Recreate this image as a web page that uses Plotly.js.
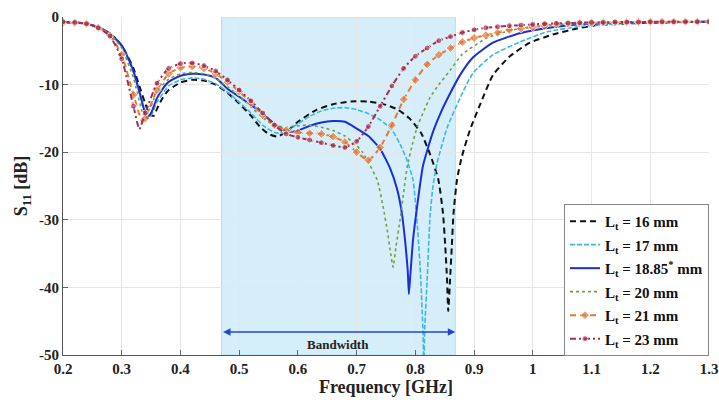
<!DOCTYPE html>
<html><head><meta charset="utf-8">
<script src="https://cdn.plot.ly/plotly-3.0.1.min.js"></script>
<style>html,body{margin:0;padding:0;background:#fff}#chart{width:719px;height:400px}</style>
</head><body><div id="chart"></div>
<script>
// ---- data ----
const f16 = [0.2,0.22,0.24,0.26,0.28,0.29,0.30,0.31,0.32,0.33,0.34,0.348,0.355,0.36,0.37,0.38,0.40,0.42,0.44,0.46,0.48,0.50,0.52,0.535,0.55,0.565,0.58,0.60,0.63,0.66,0.69,0.72,0.75,0.77,0.79,0.81,0.825,0.839,0.847,0.851,0.854,0.856,0.859,0.862,0.865,0.871,0.879,0.893,0.91,0.932,0.961,0.995,1.034,1.075,1.11,1.15,1.2,1.3];
const s16 = [-0.8,-0.8,-1.0,-1.5,-2.5,-3.2,-4.3,-5.8,-7.6,-10.2,-12.8,-14.5,-14.6,-13.6,-11.9,-10.8,-9.7,-9.3,-9.4,-10.0,-11.2,-12.8,-14.6,-16.2,-17.3,-17.7,-17.0,-15.5,-13.8,-12.9,-12.5,-12.5,-13.0,-13.7,-15.0,-17.2,-20.3,-24,-29,-34,-39,-43.5,-39,-34,-29,-24,-20.7,-16.7,-13.0,-8.6,-5.8,-3.8,-2.6,-1.7,-1.2,-1.0,-0.85,-0.7];

const f17 = [0.2,0.22,0.24,0.26,0.28,0.30,0.32,0.33,0.34,0.345,0.35,0.36,0.38,0.40,0.42,0.44,0.46,0.48,0.50,0.52,0.54,0.56,0.57,0.58,0.60,0.62,0.64,0.66,0.68,0.70,0.72,0.74,0.76,0.774,0.785,0.796,0.804,0.809,0.813,0.8145,0.816,0.82,0.825,0.83,0.837,0.854,0.876,0.898,0.932,0.978,1.024,1.08,1.15,1.2,1.3];
const s17 = [-0.8,-0.85,-1.0,-1.5,-2.5,-4.4,-8.2,-11.3,-14.5,-15.0,-14.6,-12.6,-10.2,-9.3,-9.0,-9.2,-9.9,-11.1,-12.6,-14.2,-16.0,-17.1,-17.2,-16.9,-15.8,-14.7,-13.9,-13.5,-13.4,-13.7,-14.3,-15.2,-16.7,-18.8,-21.0,-24.1,-31.5,-38.5,-46.5,-52,-46,-39,-29.5,-25,-21.6,-16.4,-12.0,-8.3,-5.6,-3.7,-2.2,-1.4,-1.0,-0.85,-0.7];

const f1885 = [0.2,0.22,0.24,0.26,0.28,0.30,0.31,0.32,0.33,0.34,0.343,0.35,0.36,0.37,0.38,0.40,0.42,0.44,0.46,0.48,0.50,0.52,0.54,0.56,0.58,0.59,0.60,0.62,0.64,0.66,0.68,0.70,0.72,0.74,0.757,0.769,0.777,0.783,0.787,0.789,0.792,0.796,0.803,0.813,0.83,0.845,0.858,0.876,0.898,0.932,0.978,1.034,1.09,1.15,1.2,1.3];
const s1885 = [-0.8,-0.85,-1.0,-1.5,-2.4,-4.2,-5.9,-8.0,-11.0,-14.3,-14.9,-14.2,-12.0,-10.6,-9.6,-8.7,-8.4,-8.5,-9.0,-10.6,-11.8,-13.0,-14.3,-15.8,-16.8,-17.0,-16.8,-16.1,-15.6,-15.4,-15.5,-16.5,-17.6,-19.5,-22.4,-25.5,-29.0,-33.5,-37.5,-41.0,-37.5,-33.0,-28.0,-22.0,-17.0,-13.8,-11.5,-8.6,-6.0,-3.8,-2.4,-1.5,-1.0,-0.85,-0.8,-0.7];

const f20 = [0.2,0.22,0.24,0.26,0.28,0.30,0.32,0.335,0.34,0.35,0.36,0.38,0.40,0.42,0.44,0.46,0.48,0.50,0.52,0.54,0.56,0.58,0.60,0.62,0.64,0.66,0.68,0.70,0.71,0.72,0.735,0.745,0.752,0.758,0.762,0.767,0.774,0.78,0.786,0.795,0.803,0.815,0.825,0.84,0.86,0.88,0.922,0.966,1.024,1.1,1.2,1.3];
const s20 = [-0.8,-0.85,-1.0,-1.5,-2.5,-4.6,-9.0,-14.0,-14.5,-13.2,-11.0,-9.2,-8.4,-8.2,-8.4,-9.1,-10.3,-11.7,-13.3,-14.9,-16.0,-16.3,-16.1,-16.0,-16.3,-16.8,-17.6,-19.0,-20.0,-21.5,-24.1,-28.0,-31.5,-35.0,-37.0,-34.0,-30.0,-26.0,-22.2,-18.8,-16.3,-13.8,-11.9,-10.0,-7.8,-5.5,-3.1,-1.9,-1.2,-0.9,-0.8,-0.7];

const f21 = [0.2,0.22,0.24,0.26,0.28,0.30,0.32,0.335,0.34,0.36,0.38,0.40,0.42,0.44,0.46,0.48,0.50,0.52,0.54,0.56,0.58,0.60,0.62,0.64,0.66,0.68,0.70,0.72,0.74,0.76,0.78,0.80,0.82,0.84,0.86,0.88,0.90,0.92,0.94,0.96,0.98,1.00,1.02,1.04,1.06,1.08,1.10,1.12,1.14,1.16,1.18,1.20,1.22,1.24,1.26,1.28,1.30];
const s21 = [-0.8,-0.85,-1.0,-1.6,-2.7,-5.6,-11.5,-15.5,-15.0,-10.8,-8.4,-7.5,-7.3,-7.6,-8.4,-9.6,-11.0,-12.7,-14.5,-16.0,-16.8,-17.1,-17.2,-17.3,-17.7,-18.5,-20.0,-21.2,-19.3,-16.0,-12.2,-9.3,-7.0,-5.6,-4.6,-3.7,-3.1,-2.7,-2.3,-1.9,-1.7,-1.5,-1.3,-1.1,-1.0,-0.9,-0.85,-0.8,-0.8,-0.75,-0.75,-0.75,-0.7,-0.7,-0.7,-0.7,-0.7];
const m21 = [1,1,1,1,1,1,1,0,1,1,1,1,1,1,1,1,1,1,1,1,1,1,1,1,1,1,1,1,1,1,1,1,1,1,1,1,1,1,1,1,1,1,1,1,1,1,1,1,1,1,1,1,1,1,1,1,1];

const f23 = [0.2,0.22,0.24,0.26,0.28,0.30,0.32,0.33,0.34,0.36,0.38,0.40,0.42,0.44,0.46,0.48,0.50,0.52,0.54,0.56,0.58,0.60,0.62,0.64,0.66,0.68,0.70,0.72,0.74,0.76,0.78,0.80,0.82,0.84,0.86,0.88,0.90,0.92,0.94,0.96,0.98,1.00,1.02,1.04,1.06,1.08,1.10,1.12,1.14,1.16,1.18,1.20,1.22,1.24,1.26,1.28,1.30];
const s23 = [-0.7,-0.8,-1.0,-1.6,-2.8,-6.2,-13.2,-16.6,-14.2,-9.8,-7.6,-6.9,-6.8,-7.2,-8.0,-9.3,-10.8,-12.4,-14.2,-16.0,-17.3,-17.8,-18.2,-18.6,-19.0,-19.3,-18.4,-16.2,-13.2,-10.2,-7.6,-5.8,-4.6,-3.5,-2.9,-2.3,-1.9,-1.6,-1.45,-1.3,-1.2,-1.1,-1.0,-0.95,-0.9,-0.85,-0.8,-0.8,-0.75,-0.75,-0.75,-0.7,-0.7,-0.7,-0.7,-0.7,-0.7];
const m23 = [1,1,1,1,1,1,1,0,1,1,1,1,1,1,1,1,1,1,1,1,1,1,1,1,1,1,1,1,1,1,1,1,1,1,1,1,1,1,1,1,1,1,1,1,1,1,1,1,1,1,1,1,1,1,1,1,1];

const legendNames = ['<b>L<sub>t</sub> = 16 mm</b>','<b>L<sub>t</sub> = 17 mm</b>','<b>L<sub>t</sub> = 18.85<sup>*</sup> mm</b>','<b>L<sub>t</sub> = 20 mm</b>','<b>L<sub>t</sub> = 21 mm</b>','<b>L<sub>t</sub> = 23 mm</b>'];
const xTicks = [0.2,0.3,0.4,0.5,0.6,0.7,0.8,0.9,1,1.1,1.2,1.3];
const xTickText = ['0.2','0.3','0.4','0.5','0.6','0.7','0.8','0.9','1','1.1','1.2','1.3'];
const yTicks = [0,-10,-20,-30,-40,-50];
const yTickText = ['0','-10','-20','-30','-40','-50'];
const band = [0.47, 0.868];

const FONT = 'Liberation Serif, Times New Roman, serif';
const sh = 'spline', sm = 0.5;
const traces = [
  {x:f16, y:s16, name:legendNames[0], legendgroup:'a', mode:'lines', line:{color:'#111111', width:2, dash:'6px,4px', shape:sh, smoothing:sm}},
  {x:f17, y:s17, name:legendNames[1], legendgroup:'b', mode:'lines', line:{color:'#3fb6e2', width:1.6, dash:'5px,2px', shape:sh, smoothing:sm}},
  {x:f1885, y:s1885, name:legendNames[2], legendgroup:'c', mode:'lines', line:{color:'#1a2fd6', width:2, shape:sh, smoothing:sm}},
  {x:f20, y:s20, name:legendNames[3], legendgroup:'d', mode:'lines', line:{color:'#6fa044', width:1.6, dash:'dot', shape:sh, smoothing:sm}},
  {x:f21, y:s21, name:legendNames[4], legendgroup:'e', mode:'lines+markers', line:{color:'#e2793a', width:2, dash:'6px,4px', shape:sh, smoothing:sm},
   marker:{symbol:'diamond', size:m21.map(v=>v?7:0), color:'#e2793a'}},
  {x:f23, y:s23, name:legendNames[5], legendgroup:'f', mode:'lines+markers', line:{color:'#a3304e', width:2, dash:'6px,3px,2px,3px', shape:sh, smoothing:sm},
   marker:{symbol:'circle', size:m23.map(v=>v?6:0), color:'#a3304e'}}
];
const bt = a => a.map(s => '<b>' + s + '</b>');

const layout = {
  width:719, height:400,
  margin:{l:63, r:10, t:17, b:45},
  paper_bgcolor:'#fff', plot_bgcolor:'#fff',
  showlegend:true,
  font:{family:FONT, color:'#222'},
  xaxis:{range:[0.2,1.3], tickvals:xTicks, ticktext:bt(xTickText), showgrid:true, gridcolor:'#e6e6e6', zeroline:false,
    showline:true, linecolor:'#555', linewidth:1, ticks:'inside', ticklen:5, tickcolor:'#666',
    tickfont:{family:FONT, size:15, color:'#222'},
    title:{text:'<b>Frequency [GHz]</b>', font:{family:FONT, size:18, color:'#222'}, standoff:3}},
  yaxis:{range:[-50,0], tickvals:yTicks, ticktext:bt(yTickText), showgrid:true, gridcolor:'#e6e6e6', zeroline:false,
    showline:true, linecolor:'#555', linewidth:1, ticks:'inside', ticklen:5, tickcolor:'#666',
    tickfont:{family:FONT, size:15, color:'#222'},
    title:{text:'<b>S<sub>11</sub> [dB]</b>', font:{family:FONT, size:18, color:'#222'}, standoff:6}},
  legend:{x:1, xanchor:'right', y:0.447, yanchor:'top', bgcolor:'#fff', bordercolor:'#888', borderwidth:1,
    font:{family:FONT, size:15, color:'#111'}, itemwidth:30, tracegroupgap:1, traceorder:'grouped'},
  shapes:[{type:'rect', xref:'x', yref:'y', x0:band[0], x1:band[1], y0:-50, y1:0, layer:'below',
    fillcolor:'#d5eef9', line:{color:'#b5def3', width:1}}],
  annotations:[
    {x:band[1], y:-46.6, ax:band[0], ay:-46.6, axref:'x', ayref:'y', xref:'x', yref:'y', text:'', showarrow:true,
     arrowhead:2, arrowside:'end+start', arrowsize:1, arrowwidth:1.5, arrowcolor:'#2347c8'},
    {x:(band[0]+band[1])/2, y:-48.5, xref:'x', yref:'y', text:'<b>Bandwidth</b>', showarrow:false,
     font:{family:FONT, size:13, color:'#222'}}
  ]
};
Plotly.newPlot('chart', traces, layout, {displayModeBar:false, staticPlot:true});
</script></body></html>
